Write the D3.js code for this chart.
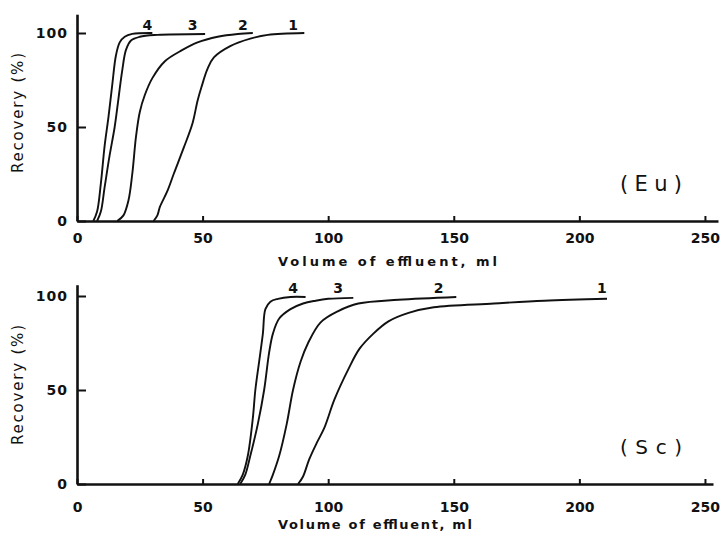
<!DOCTYPE html>
<html>
<head>
<meta charset="utf-8">
<script src="https://cdn.jsdelivr.net/npm/d3@7"></script>
<style>
	body{ margin:0; background:#ffffff; }
	text{ font-family:"DejaVu Sans", sans-serif; fill:#111111; }
</style>
</head>
<body>
<div id="chart"></div>
<script>

// Axis ticks
var volumeTicks = [0, 50, 100, 150, 200, 250];
var recoveryTicks = [0, 50, 100];
var curveNames = ["1", "2", "3", "4"];

// Eu breakthrough curves, [volume ml, recovery %]
var euCurve1 = [[30.5,0],[32,3],[33,7.5],[36,16],[38.5,25],[42.5,39],[46,52],[48,64],[49.5,71],[52,81],[54.5,87],[61,93],[69,97],[76,99],[90.5,100]];
var euCurve2 = [[16,0],[18.5,3],[20.5,11],[22,25],[23.5,45],[25,58],[27,67],[30,76],[35,85],[42,91],[48,95],[56,98],[64,99.5],[70,100]];
var euCurve3 = [[8,0],[9.5,5],[11,18],[13,35],[15,50],[16.5,65],[18,80],[19.5,91],[21.5,96],[25,98],[32,99],[51,99.5]];
var euCurve4 = [[6.5,0],[8,5],[9.5,20],[11,40],[12.5,55],[14,72],[15.5,88],[17,95],[19,98],[22,99.5],[30,100]];
var euLabelVolumes = [86, 66, 46, 28];

// Sc breakthrough curves
var scCurve1 = [[88,0],[90,4],[92.4,13],[95.5,22],[98.5,30],[102.5,45],[108,61],[112.5,72],[118,80],[124,86.5],[132,91],[142,94],[166,96],[186,97.5],[211,98.5]];
var scCurve2 = [[76.5,0],[78,5],[80.5,15],[83.5,32],[86,50],[89,65],[92,75],[97,86],[104,92],[112,96],[128,98],[151,99.5]];
var scCurve3 = [[65,0],[67,5],[69,15],[72,32],[74.5,50],[76.5,70],[78,80],[80.5,88],[85,93],[90,96],[95,97.5],[100,98.5],[110,99]];
var scCurve4 = [[64,0],[66,5],[68,15],[70,35],[71,50],[72.5,65],[74,80],[75,93],[77,97],[80,98.5],[85,99.5],[91,99.5]];
var scLabelVolumes = [209, 144, 104, 86];

var chart = {};

(function(){

	chart.width = 720;
	chart.height = 533;
	chart.left = 77;

	chart.svg = d3.select("#chart").append("svg")
		.attr("width", chart.width)
		.attr("height", chart.height);

	// Draw one panel (Eu or Sc)
	function drawPanel(p){
		var svg = chart.svg;

		var x = d3.scaleLinear().domain([0, p.volMax]).range([chart.left, p.right]);
		var y = d3.scaleLinear().domain([0, p.recMax]).range([p.bottom, p.bottom - p.recMax * 1.88]);

		// x axis
		var xAxis = svg.append("g")
			.attr("transform", "translate(0," + p.bottom + ")")
			.call(d3.axisBottom(x).tickValues(volumeTicks).tickSize(-5).tickSizeOuter(0).tickPadding(p.xPad));
		// y axis
		var yAxis = svg.append("g")
			.attr("transform", "translate(" + chart.left + ",0)")
			.call(d3.axisLeft(y).tickValues(recoveryTicks).tickSize(-9).tickSizeOuter(0).tickPadding(9));

		[xAxis, yAxis].forEach(function(a){
			a.select(".domain").attr("stroke", "#111").attr("stroke-width", 2.6);
			a.selectAll(".tick line").attr("stroke", "#111").attr("stroke-width", 2);
			a.selectAll(".tick text")
				.style("font-family", "'DejaVu Sans', sans-serif")
				.style("font-size", "14px")
				.style("font-weight", "bold")
				.attr("fill", "#111");
		});
		yAxis.selectAll(".tick text").style("letter-spacing", "1px");

		// curves
		var line = d3.line()
			.x(function(d){ return x(d[0]); })
			.y(function(d){ return y(d[1]); })
			.curve(d3.curveCatmullRom.alpha(0.5));

		p.curves.forEach(function(c, i){
			svg.append("path")
				.attr("d", line(c))
				.attr("fill", "none")
				.attr("stroke", "#111")
				.attr("stroke-width", 1.9)
				.attr("stroke-linejoin", "round");

			svg.append("text")
				.attr("x", x(p.labelVolumes[i]))
				.attr("y", y(104) + 5)
				.attr("text-anchor", "middle")
				.style("font-size", "14px")
				.style("font-weight", "bold")
				.text(curveNames[i]);
		});

		// axis titles
		svg.append("text")
			.attr("transform", "translate(23," + p.yTitleY + ") rotate(-90)")
			.attr("text-anchor", "middle")
			.attr("textLength", 120)
			.style("font-size", "15px")
			.text("Recovery (%)");

		svg.append("text")
			.attr("x", 278)
			.attr("y", p.xTitleY)
			.attr("textLength", p.xTitleLen)
			.style("font-size", "13px")
			.style("font-weight", "bold")
			.text(p.xTitle);

		// element tag
		svg.append("text")
			.attr("x", 620)
			.attr("y", p.tagY)
			.attr("textLength", 62)
			.style("font-size", p.tagSize)
			.text(p.tag);
	}

	drawPanel({
		bottom: 221, recMax: 110, volMax: 255.2, right: 718, xPad: 12,
		curves: [euCurve1, euCurve2, euCurve3, euCurve4],
		labelVolumes: euLabelVolumes,
		yTitleY: 113, xTitleY: 266, xTitleLen: 219,
		xTitle: "Volume of effluent, ml",
		tag: "(Eu)", tagY: 191, tagSize: "21px"
	});

	drawPanel({
		bottom: 484, recMax: 106, volMax: 253.2, right: 713, xPad: 18,
		curves: [scCurve1, scCurve2, scCurve3, scCurve4],
		labelVolumes: scLabelVolumes,
		yTitleY: 385, xTitleY: 529, xTitleLen: 194,
		xTitle: "Volume  of  effluent, ml",
		tag: "(Sc)", tagY: 454, tagSize: "20px"
	});

})();
</script>
</body>
</html>
